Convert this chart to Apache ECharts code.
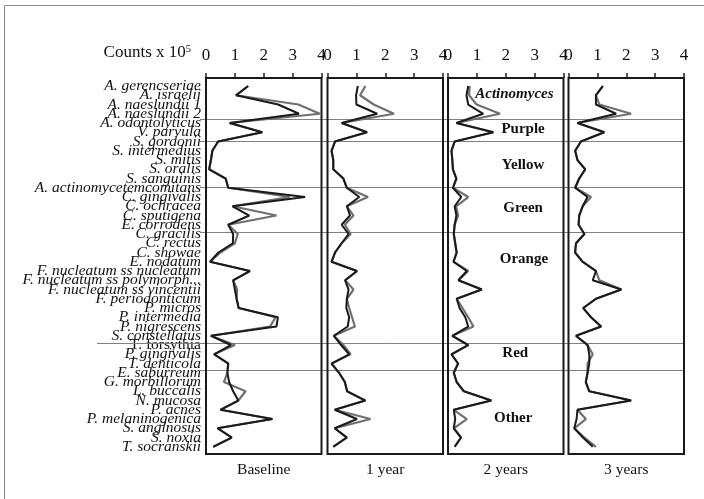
<!DOCTYPE html>
<html><head><meta charset="utf-8">
<script src="https://cdn.jsdelivr.net/npm/echarts@6/dist/echarts.min.js"></script>
<style>html,body{margin:0;padding:0;background:#fff}#c{width:704px;height:499px}</style>
</head><body><div id="c"></div><script>
const categories = ['A. gerencseriae','A. israelii','A. naeslundii 1','A. naeslundii 2','A. odontolyticus','V. parvula',
'S. gordonii','S. intermedius','S. mitis','S. oralis','S. sanguinis','A. actinomycetemcomitans','C. gingivalis','C. ochracea',
'C. sputigena','E. corrodens','C. gracilis','C. rectus','C. showae','E. nodatum','F. nucleatum ss nucleatum',
'F. nucleatum ss polymorph...','F. nucleatum ss vincentii','F. periodonticum','P. micros','P. intermedia','P. nigrescens',
'S. constellatus','T. forsythia','P. gingivalis','T. denticola','E. saburreum','G. morbillorum','L. buccalis','N. mucosa',
'P. acnes','P. melaninogenica','S. anginosus','S. noxia','T. socranskii'];
const panelTitles = ['Baseline','1 year','2 years','3 years'];
const xTicks = [0,1,2,3,4];
const axisTitle = 'Counts x 10';
const axisTitleExp = '5';

const baselineDark = [1.46,1.04,2.5,3.22,0.82,1.95,0.42,0.22,0.17,0.11,0.68,0.77,3.43,0.92,1.5,0.77,0.94,0.93,0.43,0.14,1.52,0.94,1.0,1.06,1.13,2.49,2.44,0.17,0.86,0.28,0.77,0.74,0.8,0.94,1.12,0.5,2.3,0.4,0.89,0.25];
const baselineGrey = [1.46,1.04,3.2,3.94,0.82,1.95,0.42,0.22,0.17,0.11,0.68,0.77,2.9,0.92,2.44,0.77,1.1,1.0,0.5,0.14,1.52,0.94,1.08,1.06,1.13,2.41,2.22,0.17,1.0,0.28,0.77,0.74,0.62,1.37,1.12,0.5,2.3,0.4,0.89,0.25];
const year1Dark = [1.05,0.99,1.0,1.72,0.49,1.37,0.26,0.14,0.2,0.2,0.55,0.67,1.1,0.67,0.78,0.49,0.73,0.49,0.26,0.14,1.02,0.61,0.73,0.67,0.65,0.75,0.7,0.22,0.47,0.75,0.14,0.4,0.6,0.68,1.31,0.25,1.02,0.25,0.67,0.2];
const year1Grey = [1.31,1.13,1.6,2.3,0.49,1.37,0.26,0.14,0.2,0.2,0.55,0.67,1.4,0.67,0.9,0.6,0.8,0.49,0.26,0.14,1.02,0.61,0.9,0.67,0.75,0.85,0.95,0.22,0.55,0.8,0.14,0.4,0.6,0.68,1.31,0.25,1.49,0.25,0.67,0.2];
const year2Dark = [0.7,0.64,0.7,1.22,0.29,1.57,0.23,0.12,0.15,0.17,0.29,0.17,0.46,0.23,0.29,0.23,0.2,0.25,0.3,0.19,0.65,0.36,1.17,0.3,0.4,0.6,0.7,0.15,0.7,0.12,0.35,0.2,0.3,0.55,1.5,0.2,0.25,0.2,0.45,0.23];
const year2Grey = [0.75,0.73,0.99,1.8,0.29,1.57,0.23,0.12,0.15,0.17,0.29,0.17,0.7,0.28,0.35,0.23,0.2,0.25,0.3,0.19,0.7,0.36,1.17,0.3,0.5,0.7,0.88,0.15,0.7,0.12,0.35,0.2,0.3,0.55,1.5,0.2,0.65,0.2,0.45,0.23];
const year3Dark = [1.19,0.95,0.95,1.65,0.31,1.24,0.43,0.23,0.31,0.58,0.37,0.23,0.66,0.49,0.37,0.35,0.55,0.26,0.23,0.49,0.95,0.84,1.83,0.95,0.51,0.78,1.13,0.26,0.66,0.72,0.72,0.66,0.6,0.72,2.17,0.31,0.28,0.2,0.5,0.84];
const year3Grey = [1.19,0.95,1.07,2.17,0.31,1.24,0.43,0.23,0.31,0.58,0.37,0.23,0.78,0.49,0.37,0.35,0.55,0.26,0.23,0.49,0.95,1.07,1.83,0.95,0.51,0.78,1.13,0.26,0.66,0.84,0.66,0.66,0.6,0.72,2.17,0.31,0.6,0.2,0.55,0.95];

const groupNames = ['Actinomyces','Purple','Yellow','Green','Orange','Red','Other'];
const groupLabelRow = [0.9,4.7,8.6,13.2,18.7,28.9,35.9];
const groupLabelX = [2.3,2.6,2.6,2.6,2.63,2.33,2.26];
const separatorRows = [3.54,5.98,10.89,15.75,27.75,30.73];

const darkSeries = [baselineDark, year1Dark, year2Dark, year3Dark];
const greySeries = [baselineGrey, year1Grey, year2Grey, year3Grey];

const FONT = "'Liberation Serif', 'DejaVu Serif', serif";
const panelLefts = [206, 327.5, 448, 568.5];
const panelW = 115.5;
const frameTop = 78, frameBottom = 454;

const chart = echarts.init(document.getElementById('c'), null, {renderer: 'canvas'});
const grids = [], xAxes = [], yAxes = [], series = [];
panelLefts.forEach((l, i) => {
  grids.push({left: l, top: 81.4, width: panelW, height: 370, containLabel: false});
  xAxes.push({type: 'value', gridIndex: i, position: 'top', offset: 3.4, min: xTicks[0], max: xTicks[xTicks.length-1], interval: 1,
    axisLine: {show: false}, splitLine: {show: false},
    axisTick: {show: true, length: 5, lineStyle: {color: '#222', width: 1.5}},
    axisLabel: {fontSize: 17, fontFamily: FONT, color: '#111', margin: 14}});
  yAxes.push({type: 'category', gridIndex: i, data: categories, inverse: true, boundaryGap: true,
    axisLine: {show: false}, axisTick: {show: false}, splitLine: {show: false},
    axisLabel: i === 0 ? {show: true, interval: 0, fontSize: 15.5, fontStyle: 'italic', fontFamily: FONT, color: '#111', margin: 5,
      formatter: v => v === 'T. forsythia' ? '{up|' + v + '}' : v,
      rich: {up: {fontSize: 15.5, fontStyle: 'normal', fontFamily: FONT, color: '#111'}}} : {show: false}});
  series.push({type: 'line', xAxisIndex: i, yAxisIndex: i, showSymbol: false, symbol: 'none', z: 3,
    lineStyle: {color: '#707070', width: 2.2}, data: greySeries[i].map((v, k) => [v, categories[k]])});
  series.push({type: 'line', xAxisIndex: i, yAxisIndex: i, showSymbol: false, symbol: 'none', z: 4,
    lineStyle: {color: '#1a1a1a', width: 2}, data: darkSeries[i].map((v, k) => [v, categories[k]])});
});

chart.setOption({animation: false, backgroundColor: '#fff', grid: grids, xAxis: xAxes, yAxis: yAxes, series: series});

function rowToY(r) {
  const y0 = chart.convertToPixel({gridIndex: 0}, [0, categories[0]])[1];
  const y1 = chart.convertToPixel({gridIndex: 0}, [0, categories[categories.length-1]])[1];
  return y0 + r * (y1 - y0) / (categories.length - 1);
}
const graphics = [];
graphics.push({type: 'rect', z: 0, shape: {x: 4.5, y: 5.5, width: 800, height: 600}, style: {fill: 'none', stroke: '#8a8a8a', lineWidth: 1}});
separatorRows.forEach((r, k) => {
  const y = Math.round(rowToY(r)) + 0.5;
  graphics.push({type: 'line', z: 1, shape: {x1: k === 4 ? 97 : 200, y1: y, x2: 684, y2: y}, style: {stroke: '#808080', lineWidth: 1}});
});
panelLefts.forEach((l, i) => {
  graphics.push({type: 'rect', z: 10, shape: {x: l, y: frameTop, width: panelW, height: frameBottom - frameTop}, style: {fill: 'none', stroke: '#1a1a1a', lineWidth: 2}});
  graphics.push({type: 'text', z: 10, style: {text: panelTitles[i], x: l + panelW / 2, y: 470, align: 'center', verticalAlign: 'middle', fontSize: 15.5, fontFamily: FONT, fill: '#111'}});
});
groupNames.forEach((g, k) => {
  const x = chart.convertToPixel({gridIndex: 2}, [groupLabelX[k], categories[0]])[0];
  graphics.push({type: 'text', z: 10, style: {text: g, x: x, y: rowToY(groupLabelRow[k]), align: 'center', verticalAlign: 'middle',
    fontSize: 15, fontWeight: 'bold', fontStyle: k === 0 ? 'italic' : 'normal', fontFamily: FONT, fill: '#111'}});
});
graphics.push({type: 'text', z: 10, style: {text: '{a|' + axisTitle + '}{b|' + axisTitleExp + '}', x: 191, y: 53, align: 'right', verticalAlign: 'middle',
  rich: {a: {fontSize: 17, fontFamily: FONT, fill: '#111', lineHeight: 18}, b: {fontSize: 10.5, fontFamily: FONT, fill: '#111', verticalAlign: 'top', lineHeight: 18}}}});
chart.setOption({graphic: {elements: graphics}});
</script></body></html>
